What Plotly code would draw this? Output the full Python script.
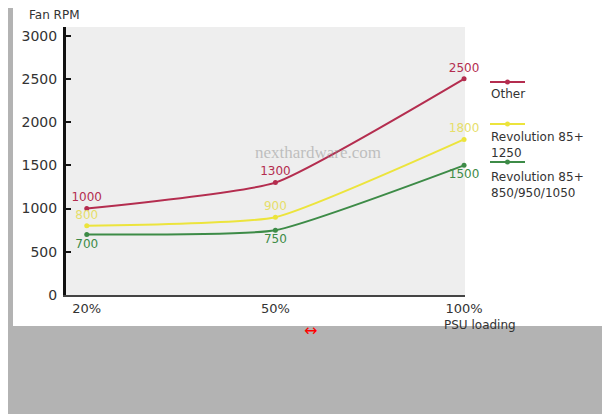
import plotly.graph_objects as go

# ---- data ----
loading = ["20%", "50%", "100%"]
series_names = ["Other", "Revolution 85+<br>1250", "Revolution 85+<br>850/950/1050"]
rpm_other = [1000, 1300, 2500]
rpm_rev1250 = [800, 900, 1800]
rpm_rev850 = [700, 750, 1500]
y_ticks = [0, 500, 1000, 1500, 2000, 2500, 3000]

series_values = [rpm_other, rpm_rev1250, rpm_rev850]
colors = ["#b42d4f", "#ece43c", "#3d8b47"]
text_colors = ["#b42d4f", "#e6de6a", "#3d8b47"]
text_pos = ["top center", "top center", "bottom center"]

OFF = 8                      # page body margin
W, H = 610 - OFF, 414 - OFF
L, R, T, B = 66, 465, 27, 295   # plot area box in page pixels


def px(x):
    return (x - L) / (R - L)


def py(y):
    return (B - y) / (B - T)


fig = go.Figure()
for name, vals, c, tc, tp in zip(series_names, series_values, colors, text_colors, text_pos):
    fig.add_trace(go.Scatter(
        x=loading, y=vals, mode="lines+markers+text",
        line=dict(color=c, width=2, shape="spline", smoothing=0.45),
        marker=dict(color=c, size=5),
        text=[str(v) for v in vals], textposition=tp,
        textfont=dict(family="DejaVu Sans", size=12, color=tc),
        name=name.replace("<br>", " "), showlegend=False, cliponaxis=False,
    ))

shapes = [
    dict(type="rect", xref="paper", yref="paper", x0=px(OFF), x1=px(620), y0=py(420), y1=py(5),
         fillcolor="#b3b3b3", line=dict(width=0), layer="below"),
    dict(type="rect", xref="paper", yref="paper", x0=px(13), x1=px(620), y0=py(326), y1=py(5),
         fillcolor="#ffffff", line=dict(width=0), layer="below"),
    dict(type="rect", xref="paper", yref="paper", x0=0, x1=1, y0=0, y1=1,
         fillcolor="#eeeeee", line=dict(width=0), layer="below"),
]

annotations = [
    dict(text="Fan RPM", x=px(27), y=py(15), xref="paper", yref="paper", xanchor="left",
         yanchor="middle", showarrow=False, font=dict(family="DejaVu Sans", size=12, color="#333")),
    dict(text="PSU loading", x=px(442), y=py(325), xref="paper", yref="paper", xanchor="left",
         yanchor="middle", showarrow=False, font=dict(family="DejaVu Sans", size=12, color="#333")),
    dict(text="nexthardware.com", x=px(318), y=py(152), xref="paper", yref="paper",
         showarrow=False, font=dict(family="Liberation Serif", size=17, color="rgba(140,140,140,0.5)")),
    dict(text="↔", x=px(310), y=py(342), xref="paper", yref="paper",
         showarrow=False, font=dict(family="DejaVu Sans", size=16, color="#ff0000")),
]

# manual legend (symbol line above text)
leg_line_y = [82, 124, 162]
leg_text_top = [86, 129, 169]
for name, c, ly, ty in zip(series_names, colors, leg_line_y, leg_text_top):
    shapes.append(dict(type="line", xref="paper", yref="paper", x0=px(490), x1=px(525),
                       y0=py(ly), y1=py(ly), line=dict(color=c, width=2)))
    shapes.append(dict(type="circle", xref="paper", yref="paper", x0=px(505), x1=px(510),
                       y0=py(ly + 2.5), y1=py(ly - 2.5), fillcolor=c, line=dict(width=0)))
    annotations.append(dict(text=name, x=px(490), y=py(ty), xref="paper", yref="paper",
                            xanchor="left", yanchor="top", align="left", showarrow=False,
                            borderpad=0,
                            font=dict(family="DejaVu Sans", size=12, color="#333")))

fig.update_layout(
    width=W, height=H,
    margin=dict(l=L - OFF, r=610 - R, t=T - OFF, b=414 - B, pad=0),
    paper_bgcolor="#ffffff", plot_bgcolor="rgba(0,0,0,0)",
    shapes=shapes, annotations=annotations, showlegend=False,
    xaxis=dict(type="category", range=[-0.11, 2.005], showgrid=False, zeroline=False,
               showline=True, linecolor="#444", linewidth=2, ticks="",
               tickfont=dict(family="DejaVu Sans", size=13, color="#333")),
    yaxis=dict(range=[0, 3100], tickvals=y_ticks, showgrid=False, zeroline=False,
               showline=True, linecolor="#111", linewidth=3, ticks="inside", ticklen=5,
               tickwidth=2, tickcolor="#111", ticklabelstandoff=3,
               tickfont=dict(family="DejaVu Sans", size=14, color="#333")),
)

fig.write_html("out.html")
